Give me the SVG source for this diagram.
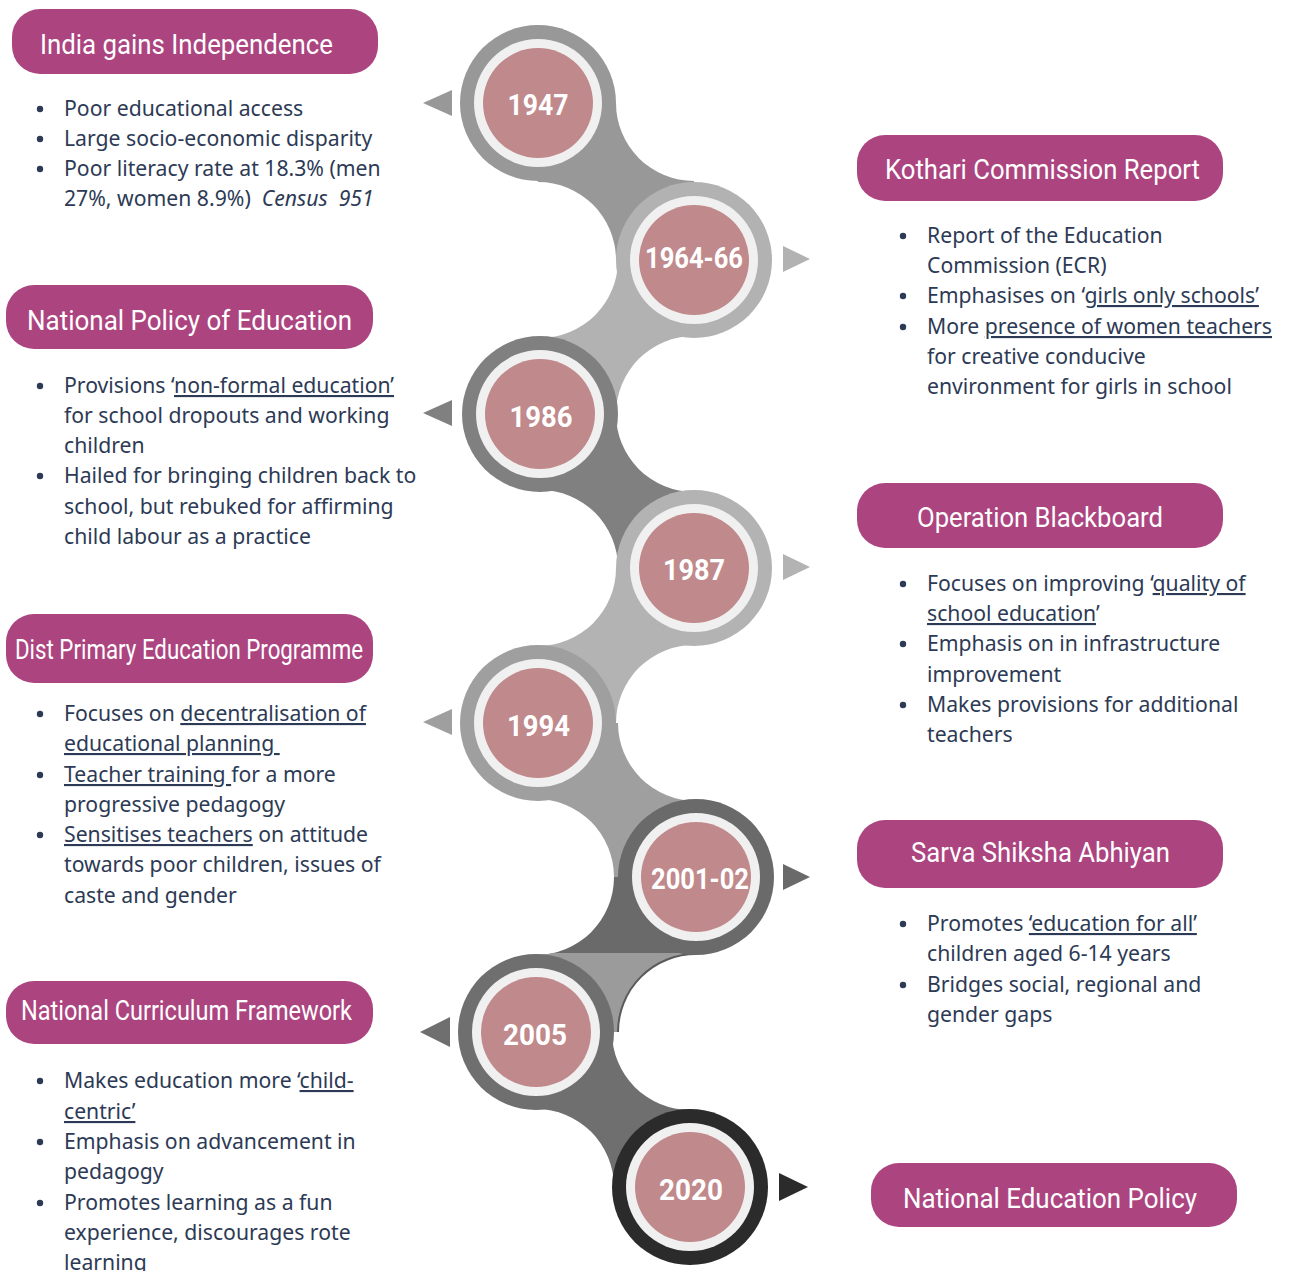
<svg xmlns="http://www.w3.org/2000/svg" width="1291" height="1271" viewBox="0 0 1291 1271">
  <style>
    .pill { fill: #ac4480; }
    .title { font-family: Roboto, "Liberation Sans", sans-serif; fill: #ffffff; font-size: 28px; }
    .body { font-family: "Noto Sans", "Open Sans", sans-serif; font-size: 21.2px; fill: #2d3a55; white-space: pre; }
    .bullet { fill: #2d3a55; }
    .u { text-decoration: underline; }
    .ring-w { fill: #f0f0f0; }
    .core { fill: #c0898b; }
    .year { font-family: Roboto, "Liberation Sans", sans-serif; font-weight: bold; font-size: 29px; fill: #ffffff; text-anchor: middle; }
  </style>
  <defs>
    <clipPath id="lowerHalf">
      <rect x="400" y="953" width="400" height="200"/>
    </clipPath>
  </defs>

  <!-- connecting bands of the timeline snake -->
  <g id="connectors">
    <path d="M538,103 L616,103 A78,78 0 0 0 694,181 L694,260 L616,260 A78,78 0 0 0 538,182 Z" fill="#989898"/>
    <path d="M694,260 L618,260 A78,78 0 0 1 540,338 L540,414 L616,414 A78,78 0 0 1 694,336 Z" fill="#b2b2b2"/>
    <path d="M540,414 L616,414 A78,78 0 0 0 694,492 L694,568 L618,568 A78,78 0 0 0 540,490 Z" fill="#808080"/>
    <path d="M694,568 L616,568 A78,78 0 0 1 538,646 L538,723 L616,723 A78,78 0 0 1 694,645 Z" fill="#b3b3b3"/>
    <path d="M538,723 L618,723 A78,78 0 0 0 696,801 L696,877 L614,877 A78,78 0 0 0 536,799 Z" fill="#9f9f9f"/>
    <path d="M696,877 L614,877 A78,78 0 0 1 536,955 L536,1032 L618,1032 A78,78 0 0 1 696,954 Z" fill="#6a6a6a"/>
    <path d="M696,877 L614,877 A78,78 0 0 1 536,955 L536,1032 L618,1032 A78,78 0 0 1 696,954 Z" fill="#9b9b9b" clip-path="url(#lowerHalf)"/>
    <path d="M618,1032 A78,78 0 0 1 696,954" fill="none" stroke="#5a5a5a" stroke-width="2" clip-path="url(#lowerHalf)"/>
    <path d="M536,1032 L612,1032 A78,78 0 0 0 690,1110 L690,1187 L614,1187 A78,78 0 0 0 536,1109 Z" fill="#6f6f6f"/>
  </g>

  <!-- year markers -->
  <g id="y1947">
    <polygon points="423,103 452,90 452,116" fill="#989898"/>
    <circle cx="538" cy="103" r="78" fill="#989898"/>
    <circle class="ring-w" cx="538" cy="103" r="64"/>
    <circle class="core" cx="538" cy="103" r="55"/>
    <text class="year" x="538" y="115" textLength="61" lengthAdjust="spacingAndGlyphs">1947</text>
  </g>
  <g id="y1964">
    <polygon points="810,259 783,246 783,272" fill="#b2b2b2"/>
    <circle cx="694" cy="260" r="78" fill="#b2b2b2"/>
    <circle class="ring-w" cx="694" cy="260" r="64"/>
    <circle class="core" cx="694" cy="260" r="55"/>
    <text class="year" x="694" y="268" textLength="98" lengthAdjust="spacingAndGlyphs">1964-66</text>
  </g>
  <g id="y1986">
    <polygon points="423,413 452,400 452,426" fill="#808080"/>
    <circle cx="540" cy="414" r="78" fill="#808080"/>
    <circle class="ring-w" cx="540" cy="414" r="64"/>
    <circle class="core" cx="540" cy="414" r="55"/>
    <text class="year" x="541" y="427" textLength="63" lengthAdjust="spacingAndGlyphs">1986</text>
  </g>
  <g id="y1987">
    <polygon points="810,567 783,554 783,580" fill="#b3b3b3"/>
    <circle cx="694" cy="568" r="78" fill="#b3b3b3"/>
    <circle class="ring-w" cx="694" cy="568" r="64"/>
    <circle class="core" cx="694" cy="568" r="55"/>
    <text class="year" x="694" y="580" textLength="62" lengthAdjust="spacingAndGlyphs">1987</text>
  </g>
  <g id="y1994">
    <polygon points="423,722 452,709 452,735" fill="#9f9f9f"/>
    <circle cx="538" cy="723" r="78" fill="#9f9f9f"/>
    <circle class="ring-w" cx="538" cy="723" r="64"/>
    <circle class="core" cx="538" cy="723" r="55"/>
    <text class="year" x="538.5" y="736" textLength="63" lengthAdjust="spacingAndGlyphs">1994</text>
  </g>
  <g id="y2001">
    <polygon points="810,877 783,864 783,890" fill="#6a6a6a"/>
    <circle cx="696" cy="877" r="78" fill="#6a6a6a"/>
    <circle class="ring-w" cx="696" cy="877" r="64"/>
    <circle class="core" cx="696" cy="877" r="55"/>
    <text class="year" x="700" y="889" textLength="98" lengthAdjust="spacingAndGlyphs">2001-02</text>
  </g>
  <g id="y2005">
    <polygon points="420,1032 450,1017 450,1047" fill="#6f6f6f"/>
    <circle cx="536" cy="1032" r="78" fill="#6f6f6f"/>
    <circle class="ring-w" cx="536" cy="1032" r="64"/>
    <circle class="core" cx="536" cy="1032" r="55"/>
    <text class="year" x="535" y="1045" textLength="64" lengthAdjust="spacingAndGlyphs">2005</text>
  </g>
  <g id="y2020">
    <polygon points="808,1187 779,1173 779,1201" fill="#2b2b2b"/>
    <circle cx="690" cy="1187" r="78" fill="#2b2b2b"/>
    <circle class="ring-w" cx="690" cy="1187" r="64"/>
    <circle class="core" cx="690" cy="1187" r="55"/>
    <text class="year" x="691" y="1200" textLength="64" lengthAdjust="spacingAndGlyphs">2020</text>
  </g>

  <!-- event cards -->
  <g id="independence">
    <rect class="pill" x="12" y="9" width="366" height="65" rx="28"/>
    <text class="title" x="40" y="54" textLength="293" lengthAdjust="spacingAndGlyphs">India gains Independence</text>
    <circle class="bullet" cx="40" cy="109" r="3.2"/>
    <circle class="bullet" cx="40" cy="139" r="3.2"/>
    <circle class="bullet" cx="40" cy="169" r="3.2"/>
    <text class="body" x="64" y="116">Poor educational access</text>
    <text class="body" x="64" y="146">Large socio-economic disparity</text>
    <text class="body" x="64" y="176">Poor literacy rate at 18.3% (men</text>
    <text class="body" x="64" y="206">27%, women 8.9%)  <tspan font-style="italic">Census  951</tspan></text>
  </g>

  <g id="kothari">
    <rect class="pill" x="857" y="135" width="366" height="66" rx="28"/>
    <text class="title" x="885" y="179" textLength="315" lengthAdjust="spacingAndGlyphs">Kothari Commission Report</text>
    <circle class="bullet" cx="903" cy="236" r="3.2"/>
    <circle class="bullet" cx="903" cy="296" r="3.2"/>
    <circle class="bullet" cx="903" cy="327" r="3.2"/>
    <text class="body" x="927" y="243">Report of the Education</text>
    <text class="body" x="927" y="273">Commission (ECR)</text>
    <text class="body" x="927" y="303">Emphasises on ‘<tspan class="u">girls only schools’</tspan></text>
    <text class="body" x="927" y="334">More <tspan class="u">presence of women teachers</tspan></text>
    <text class="body" x="927" y="364">for creative conducive</text>
    <text class="body" x="927" y="394">environment for girls in school</text>
  </g>

  <g id="npe">
    <rect class="pill" x="6" y="285" width="367" height="64" rx="28"/>
    <text class="title" x="27" y="330" textLength="325" lengthAdjust="spacingAndGlyphs">National Policy of Education</text>
    <circle class="bullet" cx="40" cy="386" r="3.2"/>
    <circle class="bullet" cx="40" cy="476" r="3.2"/>
    <text class="body" x="64" y="393">Provisions ‘<tspan class="u">non-formal education’</tspan></text>
    <text class="body" x="64" y="423">for school dropouts and working</text>
    <text class="body" x="64" y="453">children</text>
    <text class="body" x="64" y="483">Hailed for bringing children back to</text>
    <text class="body" x="64" y="514">school, but rebuked for affirming</text>
    <text class="body" x="64" y="544">child labour as a practice</text>
  </g>

  <g id="blackboard">
    <rect class="pill" x="857" y="483" width="366" height="65" rx="28"/>
    <text class="title" x="917" y="527" textLength="246" lengthAdjust="spacingAndGlyphs">Operation Blackboard</text>
    <circle class="bullet" cx="903" cy="584" r="3.2"/>
    <circle class="bullet" cx="903" cy="644" r="3.2"/>
    <circle class="bullet" cx="903" cy="705" r="3.2"/>
    <text class="body" x="927" y="591">Focuses on improving ‘<tspan class="u">quality of</tspan></text>
    <text class="body" x="927" y="621"><tspan class="u">school education</tspan>’</text>
    <text class="body" x="927" y="651">Emphasis on in infrastructure</text>
    <text class="body" x="927" y="682">improvement</text>
    <text class="body" x="927" y="712">Makes provisions for additional</text>
    <text class="body" x="927" y="742">teachers</text>
  </g>

  <g id="dpep">
    <rect class="pill" x="6" y="614" width="367" height="69" rx="28"/>
    <text class="title" x="15" y="659" font-size="24.5" textLength="348" lengthAdjust="spacingAndGlyphs">Dist Primary Education Programme</text>
    <circle class="bullet" cx="40" cy="714" r="3.2"/>
    <circle class="bullet" cx="40" cy="775" r="3.2"/>
    <circle class="bullet" cx="40" cy="835" r="3.2"/>
    <text class="body" x="64" y="721">Focuses on <tspan class="u">decentralisation of</tspan></text>
    <text class="body" x="64" y="751"><tspan class="u">educational planning </tspan></text>
    <text class="body" x="64" y="782"><tspan class="u">Teacher training </tspan>for a more</text>
    <text class="body" x="64" y="812">progressive pedagogy</text>
    <text class="body" x="64" y="842"><tspan class="u">Sensitises teachers</tspan> on attitude</text>
    <text class="body" x="64" y="872">towards poor children, issues of</text>
    <text class="body" x="64" y="903">caste and gender</text>
  </g>

  <g id="ssa">
    <rect class="pill" x="857" y="820" width="366" height="68" rx="28"/>
    <text class="title" x="911" y="862" textLength="259" lengthAdjust="spacingAndGlyphs">Sarva Shiksha Abhiyan</text>
    <circle class="bullet" cx="903" cy="924" r="3.2"/>
    <circle class="bullet" cx="903" cy="985" r="3.2"/>
    <text class="body" x="927" y="931">Promotes <tspan class="u">‘education for all’</tspan></text>
    <text class="body" x="927" y="961">children aged 6-14 years</text>
    <text class="body" x="927" y="992">Bridges social, regional and</text>
    <text class="body" x="927" y="1022">gender gaps</text>
  </g>

  <g id="ncf">
    <rect class="pill" x="6" y="981" width="367" height="63" rx="28"/>
    <text class="title" x="21" y="1020" font-size="25" textLength="331" lengthAdjust="spacingAndGlyphs">National Curriculum Framework</text>
    <circle class="bullet" cx="40" cy="1081" r="3.2"/>
    <circle class="bullet" cx="40" cy="1142" r="3.2"/>
    <circle class="bullet" cx="40" cy="1203" r="3.2"/>
    <text class="body" x="64" y="1088">Makes education more ‘<tspan class="u">child-</tspan></text>
    <text class="body" x="64" y="1119"><tspan class="u">centric’</tspan></text>
    <text class="body" x="64" y="1149">Emphasis on advancement in</text>
    <text class="body" x="64" y="1179">pedagogy</text>
    <text class="body" x="64" y="1210">Promotes learning as a fun</text>
    <text class="body" x="64" y="1240">experience, discourages rote</text>
    <text class="body" x="64" y="1270">learning</text>
  </g>

  <g id="nep">
    <rect class="pill" x="871" y="1163" width="366" height="64" rx="28"/>
    <text class="title" x="903" y="1208" textLength="294" lengthAdjust="spacingAndGlyphs">National Education Policy</text>
  </g>
</svg>
